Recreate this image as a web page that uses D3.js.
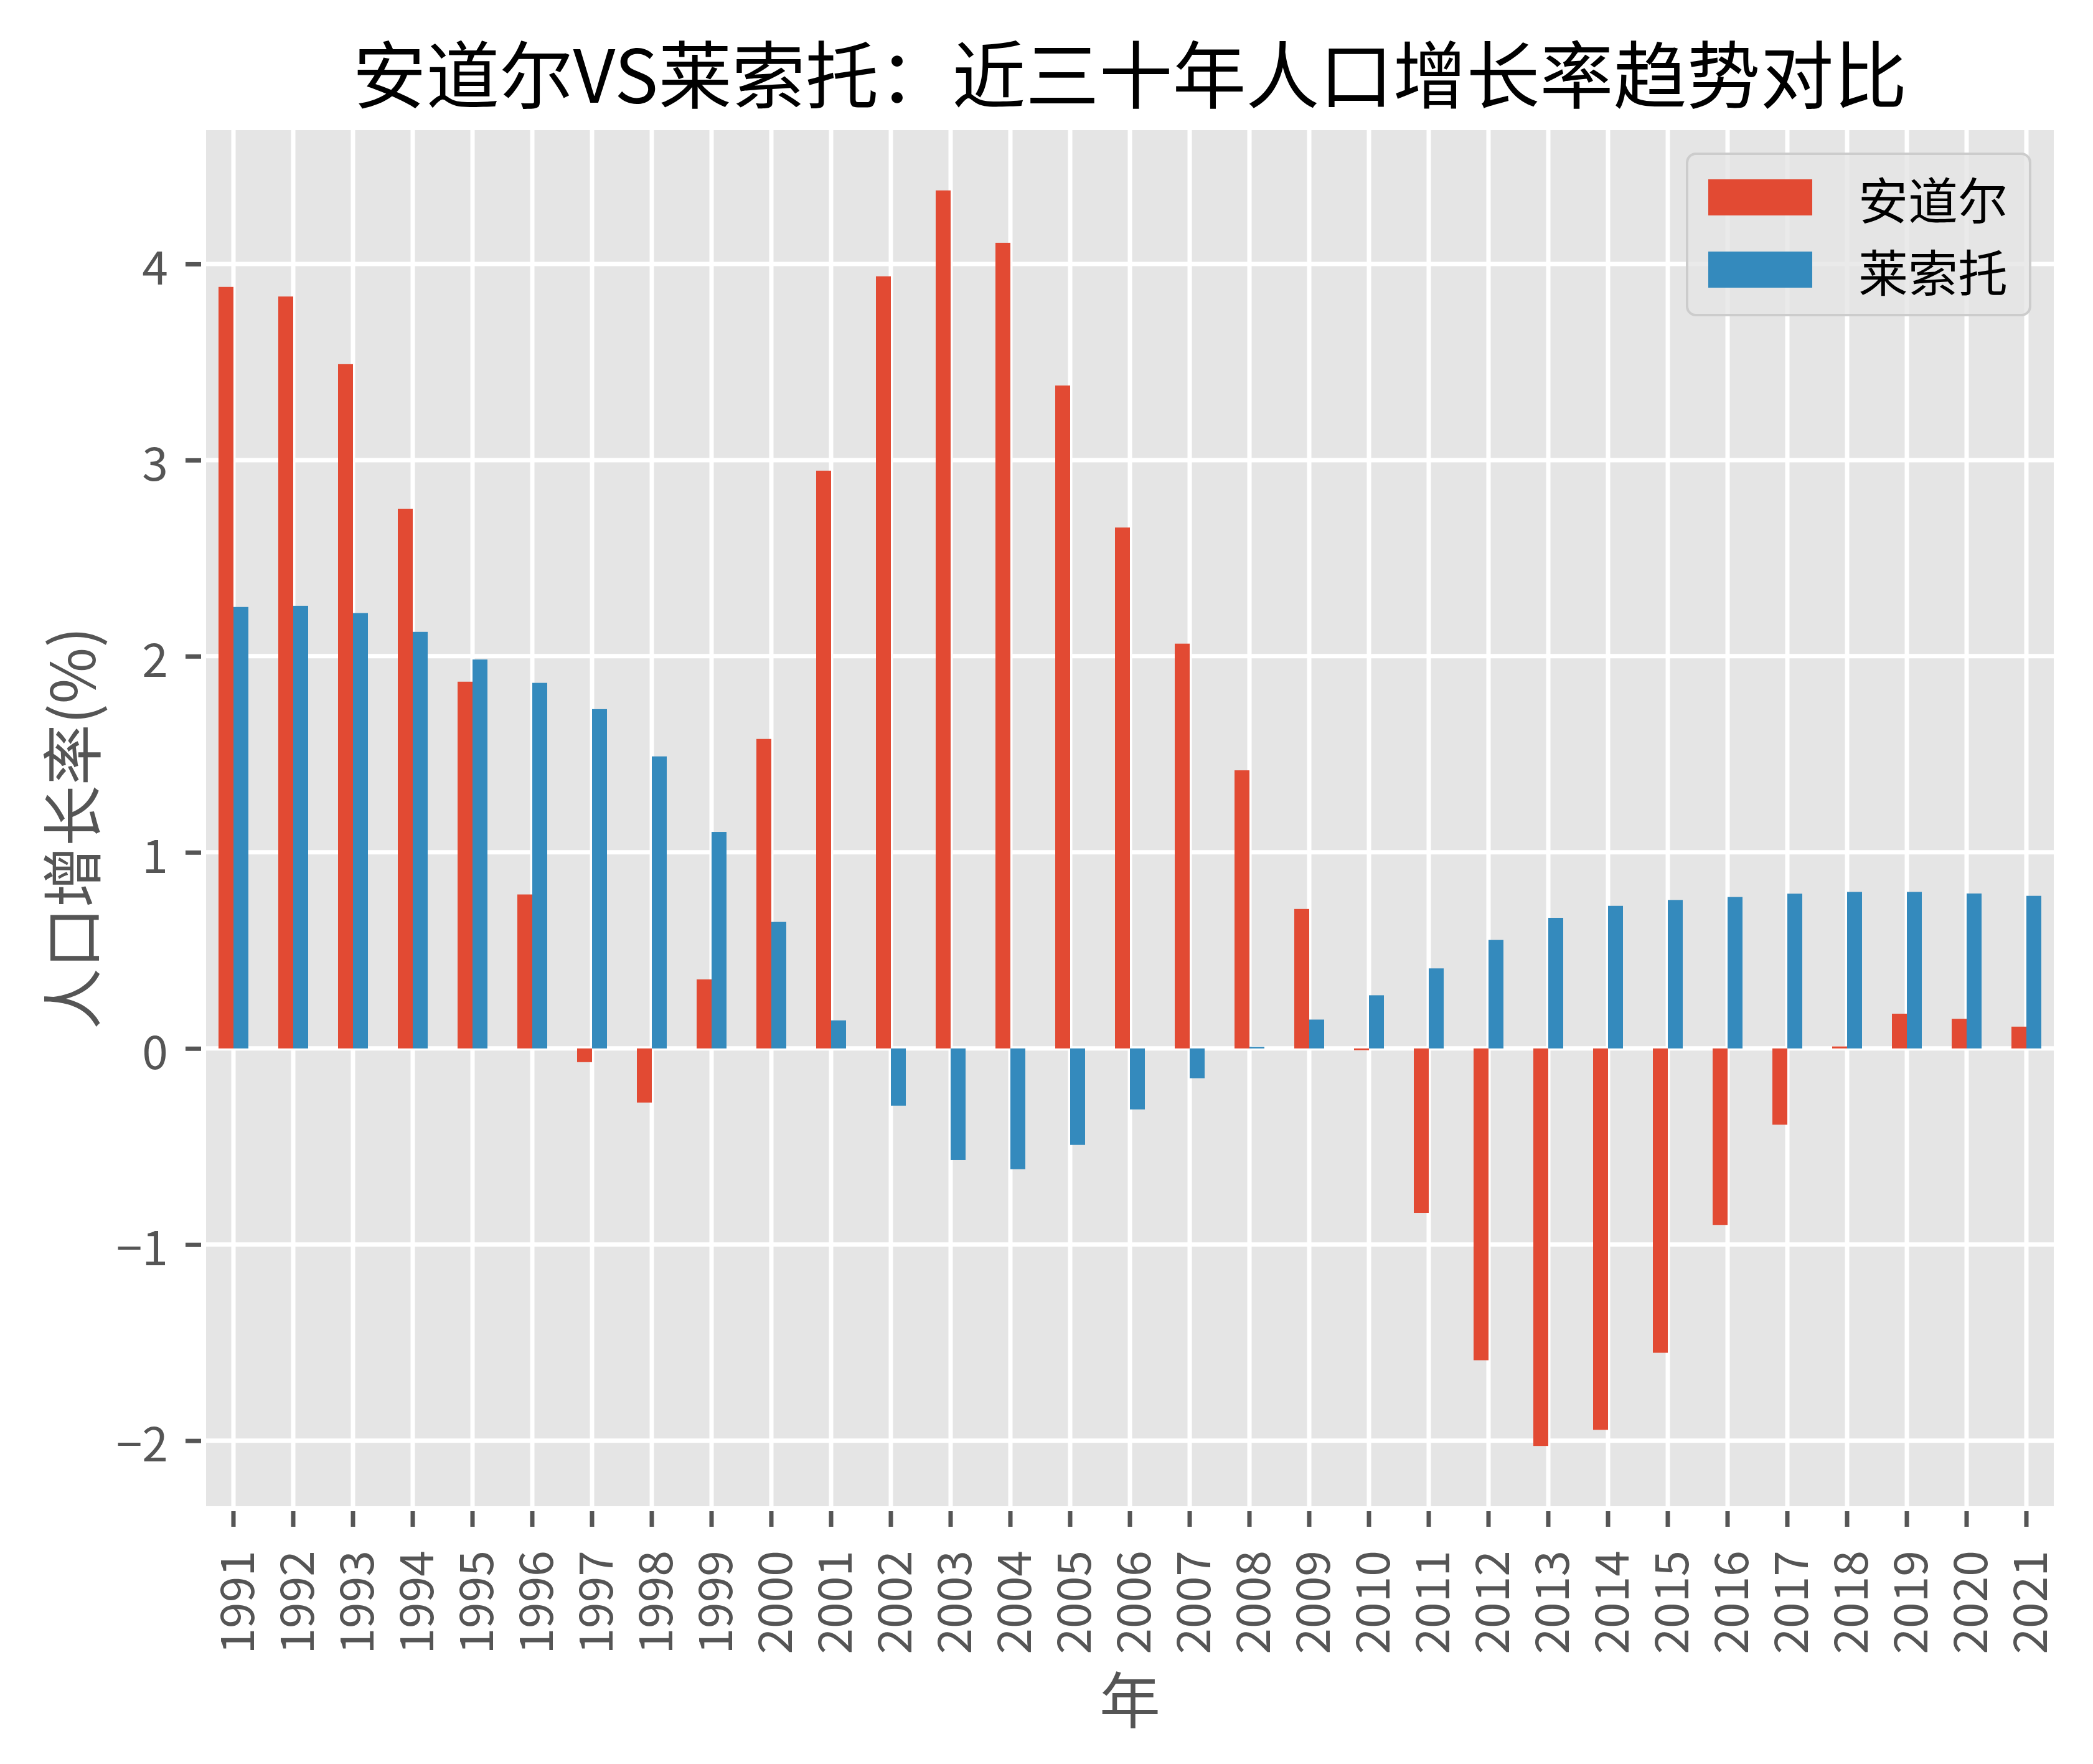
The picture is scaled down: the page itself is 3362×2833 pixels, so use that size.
<!DOCTYPE html>
<html>
<head>
<meta charset="utf-8">
<script src="https://cdn.jsdelivr.net/npm/d3@7"></script>
<style>
  html, body { margin: 0; padding: 0; background: #ffffff; }
  svg { display: block; }
</style>
</head>
<body>
<script>
// ---- data ----
const years = ["1991","1992","1993","1994","1995","1996","1997","1998","1999","2000",
               "2001","2002","2003","2004","2005","2006","2007","2008","2009","2010",
               "2011","2012","2013","2014","2015","2016","2017","2018","2019","2020","2021"];
const andorra = [3.883, 3.834, 3.489, 2.752, 1.870, 0.785, -0.070, -0.276, 0.352, 1.578,
                 2.946, 3.937, 4.375, 4.108, 3.380, 2.656, 2.064, 1.418, 0.711, -0.009,
                 -0.839, -1.590, -2.027, -1.945, -1.552, -0.900, -0.389, 0.010, 0.177, 0.151, 0.111];
const lesotho = [2.251, 2.257, 2.220, 2.124, 1.983, 1.864, 1.730, 1.489, 1.104, 0.645,
                 0.143, -0.292, -0.569, -0.616, -0.492, -0.311, -0.152, 0.008, 0.147, 0.271,
                 0.408, 0.553, 0.666, 0.727, 0.757, 0.772, 0.789, 0.798, 0.798, 0.790, 0.778];
const seriesNames = ["安道尔", "莱索托"];
const seriesColors = ["#E24A33", "#348ABD"];
const yTicks = [-2, -1, 0, 1, 2, 3, 4];
const titleText = "安道尔VS莱索托：近三十年人口增长率趋势对比";
const xLabel = "年";
const yLabel = "人口增长率(%)";

// ---- layout ----
const W = 3362, H = 2833;
const L = 327, R = 3303, T = 205, B = 2423;
const FONT = "'Noto Sans CJK SC', 'Noto Sans', sans-serif";

const svg = d3.select("body").append("svg").attr("width", W).attr("height", H);
svg.append("rect").attr("width", W).attr("height", H).attr("fill", "#ffffff");

const x = d3.scaleBand().domain(years).range([L, R]).paddingInner(0).paddingOuter(0);
const bw = x.bandwidth();
const x1 = d3.scaleBand().domain(seriesNames).range([bw * 0.25, bw * 0.75]);

const all = andorra.concat(lesotho);
const mn = d3.min(all), mx = d3.max(all), pad = (mx - mn) * 0.05;
const y = d3.scaleLinear().domain([mn - pad, mx + pad]).range([B, T]);

// background
svg.append("rect").attr("x", L).attr("y", T).attr("width", R - L).attr("height", B - T).attr("fill", "#E5E5E5");

// grid
const grid = svg.append("g");
grid.selectAll("line.v").data(years).join("line")
  .attr("x1", d => x(d) + bw / 2).attr("x2", d => x(d) + bw / 2)
  .attr("y1", T).attr("y2", B).attr("stroke", "#ffffff").attr("stroke-width", 7);
grid.selectAll("line.h").data(yTicks).join("line")
  .attr("x1", L).attr("x2", R)
  .attr("y1", d => y(d)).attr("y2", d => y(d)).attr("stroke", "#ffffff").attr("stroke-width", 7);

// bars
const rows = years.map((yr, i) => ({ yr, vals: [andorra[i], lesotho[i]] }));
const barG = svg.append("g");
rows.forEach(r => {
  r.vals.forEach((v, k) => {
    barG.append("rect")
      .attr("x", x(r.yr) + x1(seriesNames[k]))
      .attr("width", x1.bandwidth())
      .attr("y", y(Math.max(0, v)))
      .attr("height", Math.abs(y(v) - y(0)))
      .attr("fill", seriesColors[k]);
  });
});

// spine
svg.append("rect").attr("x", L).attr("y", T).attr("width", R - L).attr("height", B - T)
  .attr("fill", "none").attr("stroke", "#ffffff").attr("stroke-width", 8);

// y axis
const yAxis = svg.append("g").attr("transform", `translate(${L - 4},0)`)
  .call(d3.axisLeft(y).tickValues(yTicks).tickFormat(d3.format("d"))
    .tickSizeInner(25).tickSizeOuter(0).tickPadding(28));
yAxis.select(".domain").remove();
yAxis.selectAll(".tick line").attr("stroke", "#555555").attr("stroke-width", 7);
yAxis.selectAll(".tick text").attr("fill", "#555555").attr("font-family", FONT)
  .attr("font-size", 75).attr("dy", null).attr("dominant-baseline", "central");

// x axis
const xAxis = svg.append("g").attr("transform", `translate(0,${B + 4})`)
  .call(d3.axisBottom(x).tickSizeInner(25).tickSizeOuter(0));
xAxis.select(".domain").remove();
xAxis.selectAll(".tick line").attr("stroke", "#555555").attr("stroke-width", 7);
xAxis.selectAll(".tick text").attr("fill", "#555555").attr("font-family", FONT)
  .attr("font-size", 75)
  .attr("transform", "rotate(-90)")
  .attr("text-anchor", "end")
  .attr("x", -63).attr("y", 0).attr("dy", null)
  .attr("dominant-baseline", "central");

// axis labels
svg.append("text").attr("x", (L + R) / 2).attr("y", 2724)
  .attr("text-anchor", "middle").attr("dominant-baseline", "central")
  .attr("font-family", FONT).attr("font-size", 98).attr("fill", "#555555").text(xLabel);
svg.append("text").attr("transform", `translate(110,${(T + B) / 2 + 16}) rotate(-90)`)
  .attr("text-anchor", "middle").attr("dominant-baseline", "central")
  .attr("font-family", FONT).attr("font-size", 98).attr("fill", "#555555").text(yLabel);

// title
svg.append("text").attr("x", (L + R) / 2).attr("y", 113)
  .attr("text-anchor", "middle").attr("dominant-baseline", "central")
  .attr("font-family", FONT).attr("font-size", 118)
  .attr("fill", "#000000").text(titleText);

// legend
const lg = svg.append("g");
lg.append("rect").attr("x", 2710).attr("y", 247).attr("width", 551).attr("height", 259)
  .attr("rx", 14).attr("ry", 14)
  .attr("fill", "#E5E5E5").attr("fill-opacity", 0.8)
  .attr("stroke", "#CCCCCC").attr("stroke-width", 4);
seriesNames.forEach((name, k) => {
  const cy = 317 + k * 116;
  lg.append("rect").attr("x", 2744).attr("y", cy - 29).attr("width", 167).attr("height", 58)
    .attr("fill", seriesColors[k]);
  lg.append("text").attr("x", 2985).attr("y", cy).attr("dominant-baseline", "central")
    .attr("font-family", FONT).attr("font-size", 80).attr("fill", "#000000").text(name);
});
</script>
</body>
</html>
